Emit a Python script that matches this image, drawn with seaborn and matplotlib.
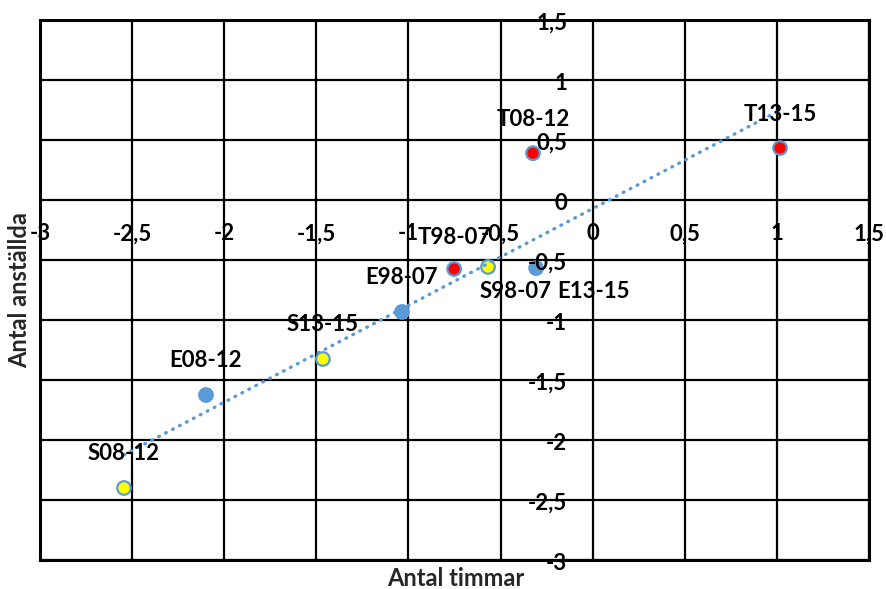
import numpy as np
import pandas as pd
import matplotlib
matplotlib.use("Agg")
import matplotlib.pyplot as plt
import seaborn as sns

# ---- data ----
labels = ["T08-12", "T13-15", "T98-07", "S98-07", "E13-15",
          "E98-07", "S13-15", "E08-12", "S08-12"]
hours = [-0.324, 1.017, -0.752, -0.568, -0.307, -1.035, -1.464, -2.099, -2.544]
employees = [0.39, 0.433, -0.575, -0.558, -0.567, -0.933, -1.325, -1.625, -2.40]
groups = ["T", "T", "T", "S", "E", "E", "S", "E", "S"]

x_ticks = [-3, -2.5, -2, -1.5, -1, -0.5, 0, 0.5, 1, 1.5]
y_ticks = [1.5, 1, 0.5, 0, -0.5, -1, -1.5, -2, -2.5, -3]
x_title = "Antal timmar"
y_title = "Antal anställda"

df = pd.DataFrame({"label": labels, "x": hours, "y": employees, "g": groups})

# ---- styling ----
sns.set_style("white")
plt.rcParams["font.family"] = ["Lato", "DejaVu Sans"]
plt.rcParams["font.weight"] = "bold"

palette = {"T": "#FF0000", "S": "#FFFF00", "E": "#5B9BD5"}
edge = "#5B9BD5"
trend_col = "#5B9BD5"

# label offsets (points) relative to each marker
offsets = {"S98-07": (20, -18), "E13-15": (41, -17), "T98-07": (0, 22.5)}
default_offset = (0, 24.5)

fig = plt.figure(figsize=(8.86, 5.89), dpi=100)
ax = fig.add_axes([40 / 886, (589 - 560) / 589, 829 / 886, 540 / 589])

ax.set_xlim(-3, 1.5)
ax.set_ylim(-3, 1.5)
ax.set_xticks(x_ticks)
ax.set_yticks(y_ticks)
ax.tick_params(length=0, labelbottom=False, labelleft=False)
ax.grid(True, color="black", linewidth=1.6, zorder=0)
ax.set_axisbelow(True)
for sp in ax.spines.values():
    sp.set_color("black")
    sp.set_linewidth(2.2)

sns.scatterplot(data=df, x="x", y="y", hue="g", palette=palette, s=95,
                edgecolor=edge, linewidth=1.6, legend=False, ax=ax, zorder=3)

sns.regplot(data=df, x="x", y="y", scatter=False, ci=None, truncate=True, ax=ax,
            line_kws=dict(color=trend_col, linewidth=2.4,
                          linestyle=(0, (0.25, 2.1)), dash_capstyle="round",
                          zorder=4))

ax.set_xlabel("")
ax.set_ylabel("")

# tick labels (drawn on the zero axes, Excel style)
fs = 16
for v in x_ticks:
    ax.text(v, -0.283, f"{v:g}".replace(".", ","), ha="center", va="center",
            fontsize=fs, fontweight="bold", color="black", zorder=6)
for v in y_ticks:
    ax.annotate(f"{v:g}".replace(".", ","), (-0.139, v), xytext=(0, -2.5),
                textcoords="offset points", ha="right", va="center",
                fontsize=fs, fontweight="bold", color="black", zorder=6,
                annotation_clip=False)

# data labels
for lab, xv, yv in zip(labels, hours, employees):
    dx, dy = offsets.get(lab, default_offset)
    ax.annotate(lab, (xv, yv), xytext=(dx, dy), textcoords="offset points",
                ha="center", va="center", fontsize=fs, fontweight="bold",
                color="black", zorder=7, annotation_clip=False)

fig.text(456 / 886, 1 - 578 / 589, x_title, ha="center", va="center",
         fontsize=17, fontweight="bold")
fig.text(20 / 886, 1 - 290 / 589, y_title, ha="center", va="center",
         rotation=90, fontsize=17, fontweight="bold")

fig.savefig("out.png", dpi=100, facecolor="white")
